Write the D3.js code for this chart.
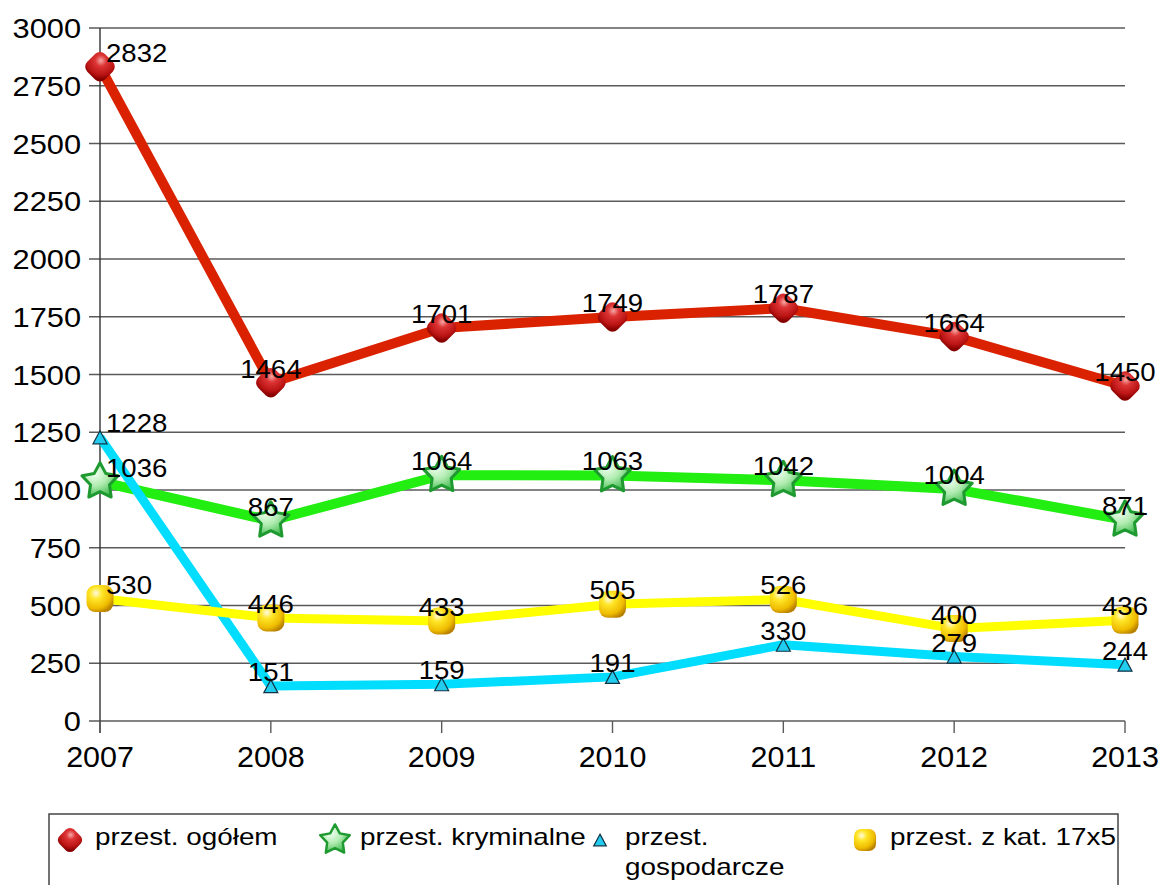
<!DOCTYPE html>
<html>
<head>
<meta charset="utf-8">
<script src="https://cdn.jsdelivr.net/npm/d3@7"></script>
<style>
body{margin:0;background:#fff;}
svg{display:block;}
text{font-family:"Liberation Sans",Arial,sans-serif;fill:#000;}
</style>
</head>
<body>
<script>
//Chart data
var years = ["2007","2008","2009","2010","2011","2012","2013"];
var ogolem = [2832,1464,1701,1749,1787,1664,1450];
var kryminalne = [1036,867,1064,1063,1042,1004,871];
var gospodarcze = [1228,151,159,191,330,279,244];
var kat17x5 = [530,446,433,505,526,400,436];
var seriesNames = ["przest. ogółem","przest. kryminalne","przest. gospodarcze","przest. z kat. 17x5"];
var yTicks = [0,250,500,750,1000,1250,1500,1750,2000,2250,2500,2750,3000];

var width = 1163, height = 885;
var series = [ogolem,kryminalne,gospodarcze,kat17x5];

//Look of each series
var colors = ["#da2200","#22ee11","#00ddff","#ffff00"];
var lineWidths = [10,10,9,9];
var markers = ["gem","star","tri","ball"];

var x = d3.scalePoint().domain(years).range([100,1125]);
var y = d3.scaleLinear().domain([0,3000]).range([721,28]);

var svg = d3.select("body").append("svg")
    .attr("width",width)
    .attr("height",height);

//Gradients for the shiny markers
var defs = svg.append("defs");
function radial(id,stops){
    var g = defs.append("radialGradient").attr("id",id)
        .attr("cx","35%").attr("cy","30%").attr("r","75%");
    stops.forEach(function(s){
        g.append("stop").attr("offset",s[0]).attr("stop-color",s[1]);
    });
}
radial("redGem",[[0,"#f6a8a8"],[0.3,"#dd3535"],[0.75,"#bb1414"],[1,"#860000"]]);
radial("yellowGem",[[0,"#fffbe0"],[0.3,"#ffe628"],[0.75,"#efbc00"],[1,"#b88000"]]);
radial("greenStar",[[0,"#f4fff4"],[0.5,"#b0ecb0"],[1,"#3cb84c"]]);

function starPath(R,r){
    var pts = [];
    for (var i=0;i<10;i++){
        var a = -Math.PI/2 + i*Math.PI/5;
        var rr = i%2==0 ? R : r;
        pts.push([rr*Math.cos(a),rr*Math.sin(a)]);
    }
    return "M"+pts.map(function(p){return p[0].toFixed(2)+","+p[1].toFixed(2);}).join("L")+"Z";
}

//Draws one marker of the given kind centred on 0,0 of g
function drawMarker(g,kind,k){
    if (kind=="gem"){
        var s = 25*k;
        g.append("rect")
            .attr("x",-s/2).attr("y",-s/2)
            .attr("width",s).attr("height",s)
            .attr("rx",7*k)
            .attr("transform","rotate(45)")
            .attr("fill","url(#redGem)");
    } else if (kind=="star"){
        g.append("path")
            .attr("d",starPath(19*k,10*k))
            .attr("fill","url(#greenStar)")
            .attr("stroke","#1f9a30")
            .attr("stroke-width",3*k)
            .attr("stroke-linejoin","round");
    } else if (kind=="tri"){
        var h = 13*k, w = 14*k;
        g.append("path")
            .attr("d","M0,"+(-h/2)+"L"+(w/2)+","+(h/2)+"L"+(-w/2)+","+(h/2)+"Z")
            .attr("fill","#22ccee")
            .attr("stroke","#113344")
            .attr("stroke-width",1.2);
    } else {
        var b = 27*k;
        g.append("rect")
            .attr("x",-b/2).attr("y",-b/2)
            .attr("width",b).attr("height",b)
            .attr("rx",9*k)
            .attr("fill","url(#yellowGem)");
    }
}

//Gridlines and y tick marks
svg.append("g").selectAll("line")
    .data(yTicks)
    .enter().append("line")
        .attr("x1",89).attr("x2",x(years[years.length-1]))
        .attr("y1",function(d){return y(d);})
        .attr("y2",function(d){return y(d);})
        .attr("stroke","#5a5a5a")
        .attr("stroke-width",1.4);

//y axis line
svg.append("line")
    .attr("x1",100).attr("x2",100)
    .attr("y1",y(3000)).attr("y2",y(0)+12)
    .attr("stroke","#333").attr("stroke-width",1.4);

//x tick marks
svg.append("g").selectAll("line")
    .data(years)
    .enter().append("line")
        .attr("x1",function(d){return x(d);})
        .attr("x2",function(d){return x(d);})
        .attr("y1",y(0)).attr("y2",y(0)+12)
        .attr("stroke","#5a5a5a").attr("stroke-width",1.4);

//y tick labels
svg.append("g").selectAll("text")
    .data(yTicks)
    .enter().append("text")
        .attr("transform",function(d){return "translate(81,"+(y(d)+10)+") scale(1.1,1)";})
        .attr("text-anchor","end")
        .attr("font-size",28)
        .text(function(d){return d;});

//x tick labels
svg.append("g").selectAll("text")
    .data(years)
    .enter().append("text")
        .attr("transform",function(d){return "translate("+x(d)+",767) scale(1.05,1)";})
        .attr("text-anchor","middle")
        .attr("font-size",29)
        .text(function(d){return d;});

//Lines
var line = d3.line()
    .x(function(d,i){return x(years[i]);})
    .y(function(d){return y(d);});

series.forEach(function(vals,si){
    svg.append("path")
        .datum(vals)
        .attr("d",line)
        .attr("fill","none")
        .attr("stroke",colors[si])
        .attr("stroke-width",lineWidths[si])
        .attr("stroke-linejoin","round");
    svg.append("g").selectAll("g")
        .data(vals)
        .enter().append("g")
            .attr("transform",function(d,i){return "translate("+x(years[i])+","+y(d)+")";})
            .each(function(){drawMarker(d3.select(this),markers[si],1);});
});

//Data labels on top
series.forEach(function(vals){
    svg.append("g").selectAll("text")
        .data(vals)
        .enter().append("text")
            .attr("transform",function(d,i){
                var px = i==0 ? x(years[i])+6 : x(years[i]);
                return "translate("+px+","+(y(d)-5)+") scale(1.06,1)";
            })
            .attr("text-anchor",function(d,i){return i==0 ? "start" : "middle";})
            .attr("font-size",26)
            .text(function(d){return d;});
});

//Legend
var legend = svg.append("g").attr("class","legend");
legend.append("rect")
    .attr("x",49).attr("y",814)
    .attr("width",1069).attr("height",120)
    .attr("fill","none")
    .attr("stroke","#444")
    .attr("stroke-width",1.5);

seriesNames.forEach(function(name,si){
    var x0 = 49 + si*265;
    var m = legend.append("g").attr("transform","translate("+(x0+21)+",840)");
    drawMarker(m,markers[si],si==2 ? 0.9 : 0.82);

    //wrap the name by words when it is too wide for its column
    var words = name.split(" "), lines = [], cur = "";
    var probe = legend.append("text").attr("font-size",24);
    words.forEach(function(w){
        var test = cur ? cur+" "+w : w;
        probe.text(test);
        if (cur && probe.node().getComputedTextLength()*1.16 > 240){
            lines.push(cur);
            cur = w;
        } else cur = test;
    });
    lines.push(cur);
    probe.remove();

    lines.forEach(function(t,li){
        legend.append("text")
            .attr("transform","translate("+(x0+46)+","+(845+li*30)+") scale(1.16,1)")
            .attr("font-size",24)
            .text(t);
    });
});
</script>
</body>
</html>
